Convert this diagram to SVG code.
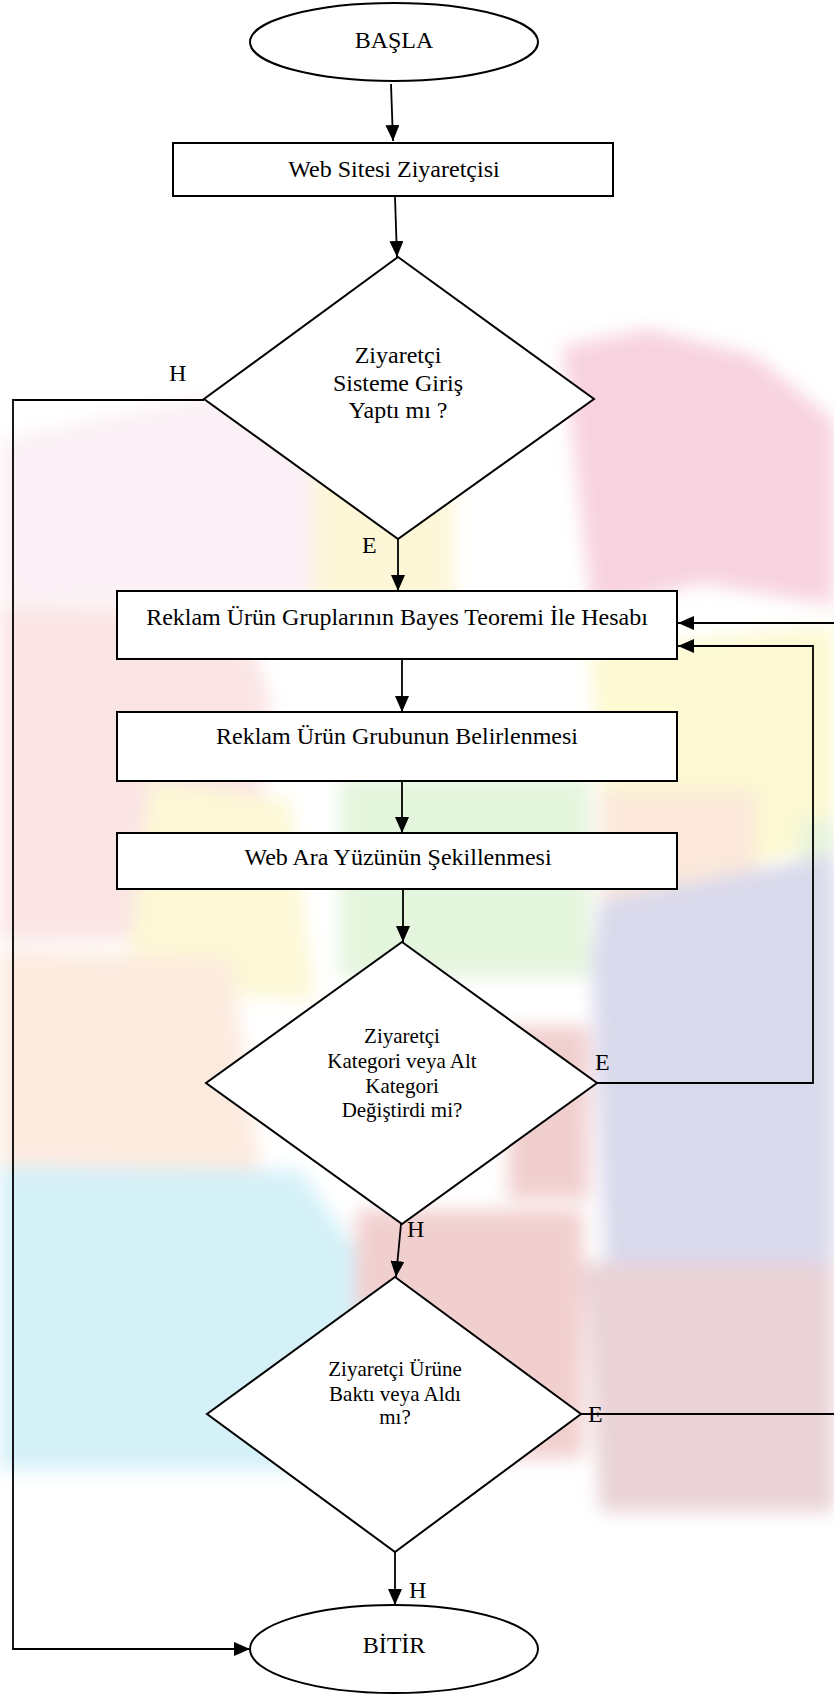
<svg xmlns="http://www.w3.org/2000/svg" width="834" height="1695" viewBox="0 0 834 1695">
<style>
.shape{fill:#fff;stroke:#000;stroke-width:2}
.t{font-family:"Liberation Serif","Times New Roman",serif;font-size:24px;fill:#000;text-anchor:middle}
.s{font-size:21px}
.lbl{font-family:"Liberation Serif","Times New Roman",serif;font-size:24px;fill:#000}
.c{fill:none;stroke:#000;stroke-width:1.8}
</style>
<defs>
<marker id="ah" markerUnits="userSpaceOnUse" markerWidth="16" markerHeight="14" refX="16" refY="7" orient="auto">
<path d="M0,0 L16,7 L0,14 z" fill="#000"/>
</marker>
<filter id="blur" x="-20%" y="-20%" width="140%" height="140%"><feGaussianBlur stdDeviation="9"/></filter>
</defs>
<rect x="0" y="0" width="834" height="1695" fill="#fff"/>
<g id="watermark" filter="url(#blur)">
<polygon points="0,440 360,365 370,600 0,600" fill="#fbf0f5"/>
<polygon points="562,346 648,329 756,356 834,421 834,605 702,583 592,610" fill="#f8d3df"/>
<polygon points="590,650 834,625 834,842 756,864 605,853" fill="#fdf9d2"/>
<polygon points="313,454 454,454 454,605 313,605" fill="#fdf7d8"/>
<polygon points="0,605 240,610 270,700 250,940 0,940" fill="#fbe4e4"/>
<polygon points="340,778 590,778 590,977 340,977" fill="#e4f5dd"/>
<polygon points="150,780 290,800 315,1000 124,990" fill="#fdf8d6"/>
<polygon points="600,790 756,790 756,940 600,940" fill="#fbe8da"/>
<polygon points="800,820 834,820 834,918 800,918" fill="#e6f3dc"/>
<polygon points="600,900 834,855 834,1285 605,1265 592,960" fill="#d9d9ec"/>
<polygon points="0,950 230,960 270,1230 0,1230" fill="#fdeadf"/>
<polygon points="356,1210 583,1210 583,1458 356,1458" fill="#f2cfcf"/>
<polygon points="508,1026 589,1026 589,1199 508,1199" fill="#f2cfcf"/>
<polygon points="0,1166 300,1170 356,1250 356,1470 0,1470" fill="#d4f1f8"/>
<polygon points="583,1263 834,1263 834,1512 600,1512" fill="#e9d3d7"/>
</g>
<g id="connectors">
<path class="c" d="M391,84 L393,141" marker-end="url(#ah)"/>
<path class="c" d="M395,197 L397,257" marker-end="url(#ah)"/>
<path class="c" d="M204,400 H13 V1649 H250" marker-end="url(#ah)"/>
<path class="c" d="M398,539 V591" marker-end="url(#ah)"/>
<path class="c" d="M402,659 V712" marker-end="url(#ah)"/>
<path class="c" d="M402,781 V833" marker-end="url(#ah)"/>
<path class="c" d="M403,889 V942" marker-end="url(#ah)"/>
<path class="c" d="M597,1083 H813 V646 H678" marker-end="url(#ah)"/>
<path class="c" d="M401,1224 L396,1277" marker-end="url(#ah)"/>
<path class="c" d="M581,1414 H845 V623 H678" marker-end="url(#ah)"/>
<path class="c" d="M395,1552 V1605" marker-end="url(#ah)"/>
</g>
<g id="basla">
<ellipse class="shape" cx="394" cy="42" rx="144" ry="39"/>
<text class="t" x="394" y="48">BAŞLA</text>
</g>
<g id="ziyaretci">
<rect class="shape" x="173" y="143" width="440" height="53"/>
<text class="t" x="394" y="177">Web Sitesi Ziyaretçisi</text>
</g>
<g id="giris">
<polygon class="shape" points="398,257 594,399 398,539 204,399"/>
<text class="t" x="398" y="363">Ziyaretçi</text>
<text class="t" x="398" y="391">Sisteme Giriş</text>
<text class="t" x="398" y="418">Yaptı mı ?</text>
</g>
<g id="bayes">
<rect class="shape" x="117" y="591" width="560" height="68"/>
<text class="t" x="397" y="625">Reklam Ürün Gruplarının Bayes Teoremi İle Hesabı</text>
</g>
<g id="grup">
<rect class="shape" x="117" y="712" width="560" height="69"/>
<text class="t" x="397" y="744">Reklam Ürün Grubunun Belirlenmesi</text>
</g>
<g id="arayuz">
<rect class="shape" x="117" y="833" width="560" height="56"/>
<text class="t" x="398" y="865">Web Ara Yüzünün Şekillenmesi</text>
</g>
<g id="kategori">
<polygon class="shape" points="402,942 597,1083 402,1224 206,1083"/>
<text class="t s" x="402" y="1043">Ziyaretçi</text>
<text class="t s" x="402" y="1068">Kategori veya Alt</text>
<text class="t s" x="402" y="1093">Kategori</text>
<text class="t s" x="402" y="1117">Değiştirdi mi?</text>
</g>
<g id="urun">
<polygon class="shape" points="395,1277 581,1414 395,1552 207,1414"/>
<text class="t s" x="395" y="1376">Ziyaretçi Ürüne</text>
<text class="t s" x="395" y="1401">Baktı veya Aldı</text>
<text class="t s" x="395" y="1424">mı?</text>
</g>
<g id="bitir">
<ellipse class="shape" cx="394" cy="1649" rx="144" ry="44"/>
<text class="t" x="394" y="1653">BİTİR</text>
</g>
<g id="labels">
<text class="lbl" x="169" y="381">H</text>
<text class="lbl" x="362" y="553">E</text>
<text class="lbl" x="595" y="1070">E</text>
<text class="lbl" x="407" y="1237">H</text>
<text class="lbl" x="588" y="1422">E</text>
<text class="lbl" x="409" y="1598">H</text>
</g>
</svg>
